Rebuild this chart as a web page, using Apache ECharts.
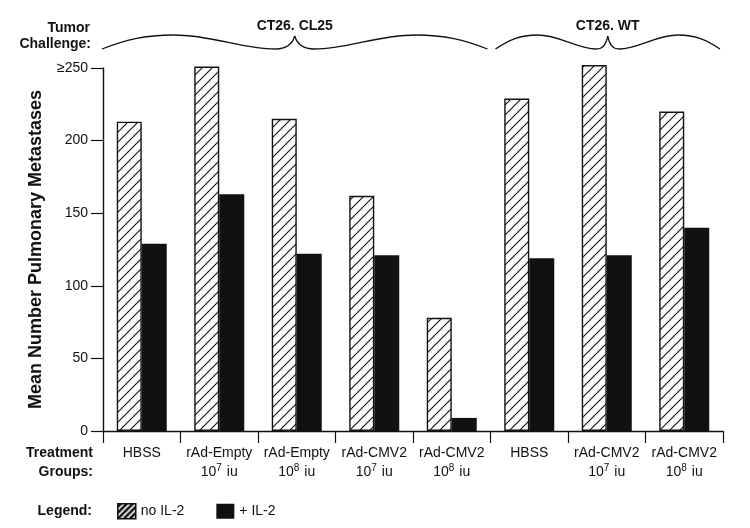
<!DOCTYPE html>
<html>
<head>
<meta charset="utf-8">
<script src="https://cdn.jsdelivr.net/npm/echarts@6/dist/echarts.min.js"></script>
<style>
html,body{margin:0;padding:0;background:#fff;}
#chart{width:750px;height:528px;}
</style>
</head>
<body>
<div id="chart"></div>
<script>
// ---- data ----
const groupNames = ['HBSS', 'rAd-Empty', 'rAd-Empty', 'rAd-CMV2', 'rAd-CMV2', 'HBSS', 'rAd-CMV2', 'rAd-CMV2'];
const groupDoseExp = ['', '7', '8', '7', '8', '', '7', '8'];
const noIL2 = [213, 251, 215, 162, 78, 229, 252, 220];
const plusIL2 = [129, 163, 122, 121, 9, 119, 121, 140];
const seriesNames = ['no IL-2', '+ IL-2'];
const challengeGroups = [
  { label: 'CT26. CL25', from: 0, to: 4 },
  { label: 'CT26. WT', from: 5, to: 7 }
];
const yTicks = [0, 50, 100, 150, 200, 250];

const FONT = 'Liberation Sans, Arial, Helvetica, sans-serif';
const INK = '#111';

function makeHatch(bg, fg, size, lw) {
  const c = document.createElement('canvas');
  c.width = size; c.height = size;
  const g = c.getContext('2d');
  g.fillStyle = bg; g.fillRect(0, 0, size, size);
  g.strokeStyle = fg; g.lineWidth = lw;
  g.beginPath();
  g.moveTo(0, size); g.lineTo(size, 0);
  g.moveTo(-2, 2); g.lineTo(2, -2);
  g.moveTo(size - 2, size + 2); g.lineTo(size + 2, size - 2);
  g.stroke();
  return c;
}
const hatchBar = makeHatch('#fff', INK, 10, 1.1);
const hatchLegend = makeHatch('#111', '#fff', 6, 1.6);

const categories = groupNames.map((n, i) => groupDoseExp[i] ? n + '\n10{s|' + groupDoseExp[i] + '} iu' : n);

const chart = echarts.init(document.getElementById('chart'), null, { renderer: 'canvas' });

const option = {
  backgroundColor: '#fff',
  animation: false,
  textStyle: { fontFamily: FONT, color: INK },
  grid: { left: 103, right: 27, top: 68, bottom: 97, containLabel: false },
  legend: {
    left: 117, top: 503, padding: 0,
    itemWidth: 18, itemHeight: 15, itemGap: 32,
    icon: 'rect',
    textStyle: { fontFamily: FONT, fontSize: 14, color: INK },
    data: [
      { name: seriesNames[0], itemStyle: { color: { image: hatchLegend, repeat: 'repeat' }, borderColor: INK, borderWidth: 1.5 } },
      { name: seriesNames[1], itemStyle: { color: INK } }
    ]
  },
  xAxis: {
    type: 'category',
    data: categories,
    axisLine: { lineStyle: { color: INK, width: 1.4 } },
    axisTick: { show: true, interval: 0, length: 12, lineStyle: { color: INK, width: 1.2 } },
    axisLabel: {
      interval: 0, margin: 13,
      fontFamily: FONT, fontSize: 14, color: INK, lineHeight: 19,
      rich: {
        s: { fontFamily: FONT, fontSize: 10, color: INK, verticalAlign: 'top', lineHeight: 19, padding: [0, 1, 0, 0] }
      }
    },
    splitLine: { show: false }
  },
  yAxis: {
    type: 'value',
    min: 0, max: 250, interval: 50,
    name: 'Mean Number Pulmonary Metastases',
    nameLocation: 'middle',
    nameGap: 58,
    nameTextStyle: { fontFamily: FONT, fontSize: 18, fontWeight: 'bold', color: INK },
    axisLine: { show: true, lineStyle: { color: INK, width: 1.4 } },
    axisTick: { show: true, length: 12, lineStyle: { color: INK, width: 1.2 } },
    axisLabel: {
      margin: 15, fontFamily: FONT, fontSize: 14, color: INK,
      formatter: v => (v === yTicks[yTicks.length - 1] ? '\u2265' + v : String(v))
    },
    splitLine: { show: false }
  },
  series: [
    {
      name: seriesNames[0], type: 'bar', data: noIL2,
      barWidth: 25, barGap: '0%', clip: false,
      itemStyle: { color: { image: hatchBar, repeat: 'repeat' }, borderColor: INK, borderWidth: 1.4 }
    },
    {
      name: seriesNames[1], type: 'bar', data: plusIL2,
      barWidth: 25, barGap: '0%', clip: false,
      itemStyle: { color: INK }
    }
  ]
};
chart.setOption(option);

// ---- annotations (braces, side labels) ----
function catBoundary(i) {
  const c0 = chart.convertToPixel({ xAxisIndex: 0 }, 0);
  const c1 = chart.convertToPixel({ xAxisIndex: 0 }, 1);
  const bw = c1 - c0;
  return c0 - bw / 2 + i * bw;
}
const graphics = [];
function curve(p0, cp1, cp2, p1) {
  const shape = { x1: p0[0], y1: p0[1], x2: p1[0], y2: p1[1], cpx1: cp1[0], cpy1: cp1[1] };
  if (cp2) { shape.cpx2 = cp2[0]; shape.cpy2 = cp2[1]; }
  graphics.push({
    type: 'bezierCurve', silent: true, shape: shape,
    style: { fill: null, stroke: INK, lineWidth: 1.3 }
  });
}
function brace(x0, x1, yb, yTop) {
  const c = (x0 + x1) / 2;
  const w = c - x0;
  curve([x0, yb], [x0 + 0.12 * w, yb - 9], [x0 + 0.22 * w, yTop], [x0 + 0.37 * w, yTop]);
  curve([x0 + 0.37 * w, yTop], [x0 + 0.58 * w, yTop], [x0 + 0.72 * w, yb], [c - 0.1 * w, yb]);
  curve([c - 0.1 * w, yb], [c - 0.02 * w, yb], null, [c, yTop + 1]);
  curve([c, yTop + 1], [c + 0.02 * w, yb], null, [c + 0.1 * w, yb]);
  curve([c + 0.1 * w, yb], [x1 - 0.72 * w, yb], [x1 - 0.58 * w, yTop], [x1 - 0.37 * w, yTop]);
  curve([x1 - 0.37 * w, yTop], [x1 - 0.22 * w, yTop], [x1 - 0.12 * w, yb - 9], [x1, yb]);
}

challengeGroups.forEach((g, k) => {
  const x0 = catBoundary(g.from) + (k === 0 ? -1 : 5);
  const x1 = catBoundary(g.to + 1) - 3;
  brace(x0, x1, 49, 35);
  graphics.push({
    type: 'text', silent: true,
    x: (x0 + x1) / 2, y: 26,
    style: { text: g.label, font: 'bold 14px ' + FONT, fill: INK, align: 'center', verticalAlign: 'middle' }
  });
});
function sideText(t, x, y) {
  graphics.push({
    type: 'text', silent: true, x: x, y: y,
    style: { text: t, font: 'bold 14px ' + FONT, fill: INK, align: 'right', verticalAlign: 'middle' }
  });
}
sideText('Tumor', 90, 28);
sideText('Challenge:', 91, 44);
sideText('Treatment', 93, 453);
sideText('Groups:', 93, 472);
sideText('Legend:', 92, 511);

chart.setOption({ graphic: graphics });
</script>
</body>
</html>
